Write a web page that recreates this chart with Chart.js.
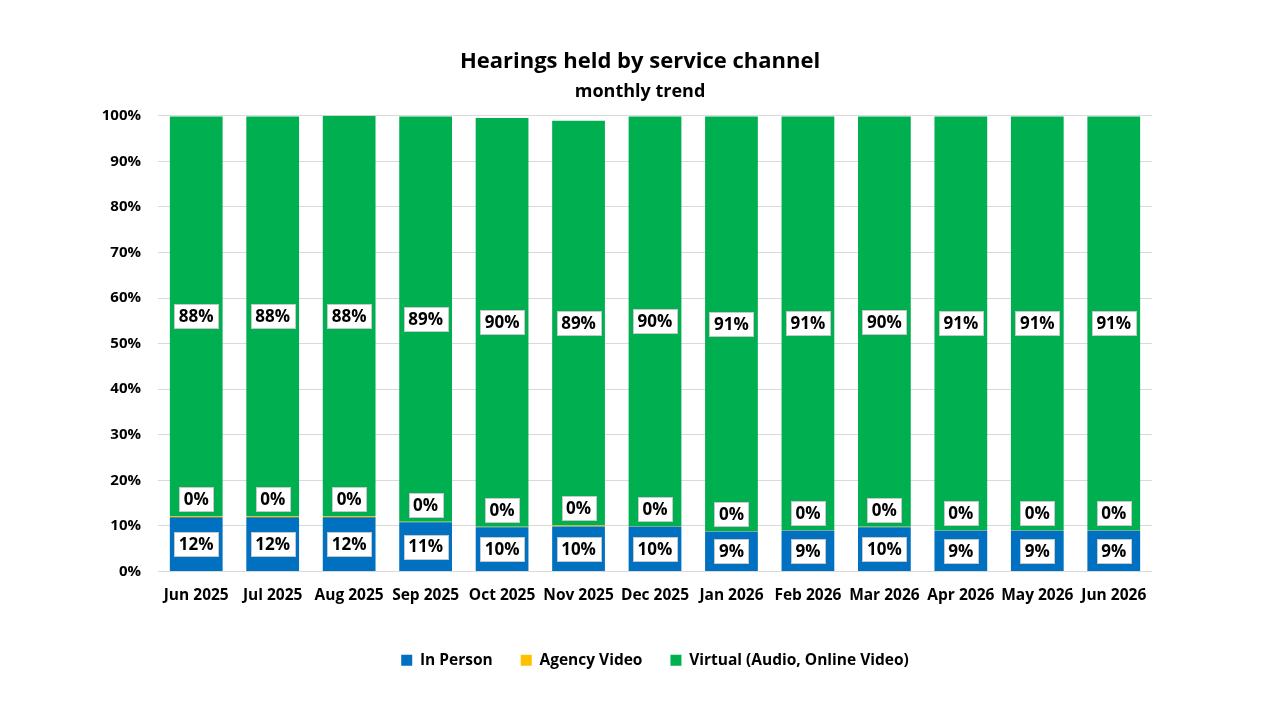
<!DOCTYPE html>
<html>
<head>
<meta charset="utf-8">
<script src="https://cdn.jsdelivr.net/npm/chart.js@4.4.1/dist/chart.umd.min.js"></script>
<style>
  html, body { margin: 0; padding: 0; background: #fff; }
  #wrap { width: 1280px; height: 720px; }
</style>
</head>
<body>
<div id="wrap"><canvas id="chart" width="1280" height="720"></canvas></div>
<script>
// data (percent of hearings held)
const months = ['Jun 2025', 'Jul 2025', 'Aug 2025', 'Sep 2025', 'Oct 2025', 'Nov 2025', 'Dec 2025',
                'Jan 2026', 'Feb 2026', 'Mar 2026', 'Apr 2026', 'May 2026', 'Jun 2026'];
const inPerson     = [11.9, 11.9, 11.9, 10.8, 9.7, 9.9, 9.9, 8.8, 9.0, 9.7, 9.0, 9.0, 9.0];
const agencyVideo  = [0.3, 0.3, 0.3, 0.1, 0.1, 0.2, 0.1, 0.1, 0.1, 0.1, 0.1, 0.1, 0.1];
const virtualHrgs  = [87.6, 87.6, 87.8, 88.9, 89.7, 88.8, 89.8, 90.9, 90.7, 90.0, 90.7, 90.7, 90.7];
const yTicks = [0, 10, 20, 30, 40, 50, 60, 70, 80, 90, 100];

const FONT = '"Open Sans", "Liberation Sans", sans-serif';
Chart.defaults.font.family = FONT;
Chart.defaults.color = '#000';

// white boxed value labels, like the excel data labels
const boxLabels = {
  id: 'boxLabels',
  afterDatasetsDraw(chart) {
    const ctx = chart.ctx;
    ctx.save();
    ctx.font = 'bold 17px ' + FONT;
    ctx.textAlign = 'center';
    ctx.textBaseline = 'middle';
    chart.data.datasets.forEach((ds, i) => {
      const meta = chart.getDatasetMeta(i);
      meta.data.forEach((bar, j) => {
        const txt = Math.round(ds.data[j]) + '%';
        let cy = (bar.y + bar.base) / 2;
        if (i === 1) cy = bar.y - 17; // tiny segment, label sits above it
        const w = Math.round(ctx.measureText(txt).width + 9);
        const h = 24;
        const x0 = Math.round(bar.x - w / 2), y0 = Math.round(cy - h / 2);
        ctx.fillStyle = '#fff';
        ctx.fillRect(x0, y0, w, h);
        ctx.strokeStyle = '#c8c8c8';
        ctx.lineWidth = 1;
        ctx.strokeRect(x0 + 0.5, y0 + 0.5, w, h);
        ctx.fillStyle = '#000';
        ctx.fillText(txt, bar.x, cy + 1);
      });
    });
    ctx.restore();
  }
};

new Chart(document.getElementById('chart').getContext('2d'), {
  type: 'bar',
  data: {
    labels: months,
    datasets: [
      { label: 'In Person', data: inPerson, backgroundColor: '#0070C0' },
      { label: 'Agency Video', data: agencyVideo, backgroundColor: '#FFC000' },
      { label: 'Virtual (Audio, Online Video)', data: virtualHrgs, backgroundColor: '#00B050' }
    ]
  },
  options: {
    responsive: false,
    devicePixelRatio: 1,
    animation: false,
    layout: { padding: { left: 0, right: 0, top: 0, bottom: 42 } },
    datasets: { bar: { categoryPercentage: 1, barPercentage: 0.69, borderWidth: 0 } },
    plugins: {
      title: {
        display: true,
        text: 'Hearings held by service channel',
        font: { size: 22, weight: 'bold' },
        padding: { top: 49, bottom: 6 }
      },
      subtitle: {
        display: true,
        text: 'monthly trend',
        color: '#000',
        font: { size: 18, weight: 'bold' },
        padding: { top: 0, bottom: 12.7 }
      },
      legend: {
        position: 'bottom',
        fullSize: false,
        labels: {
          boxWidth: 11,
          boxHeight: 11,
          padding: 28,
          font: { size: 15.5, weight: 'bold' }
        }
      },
      tooltip: { enabled: false }
    },
    scales: {
      x: {
        stacked: true,
        grid: { display: false, drawTicks: false },
        border: { display: false },
        ticks: { padding: 15, autoSkip: false, font: { size: 15.5, weight: 'bold' }, maxRotation: 0 },
        afterFit(scale) { scale.height = 53; }
      },
      y: {
        stacked: true,
        min: 0,
        max: 100,
        afterBuildTicks(scale) { scale.ticks = yTicks.map(v => ({ value: v })); },
        grid: { color: '#d9d9d9', drawTicks: false },
        border: { display: false },
        ticks: { padding: 17, font: { size: 15, weight: 'bold' }, callback: v => v + '%' },
        afterFit(scale) { scale.width = 158; }
      },
      // empty right margin so the title stays centred on the page
      yRight: {
        position: 'right',
        grid: { display: false, drawTicks: false },
        border: { display: false },
        ticks: { display: false },
        afterFit(scale) { scale.width = 128; }
      }
    }
  },
  plugins: [boxLabels]
});
</script>
</body>
</html>
